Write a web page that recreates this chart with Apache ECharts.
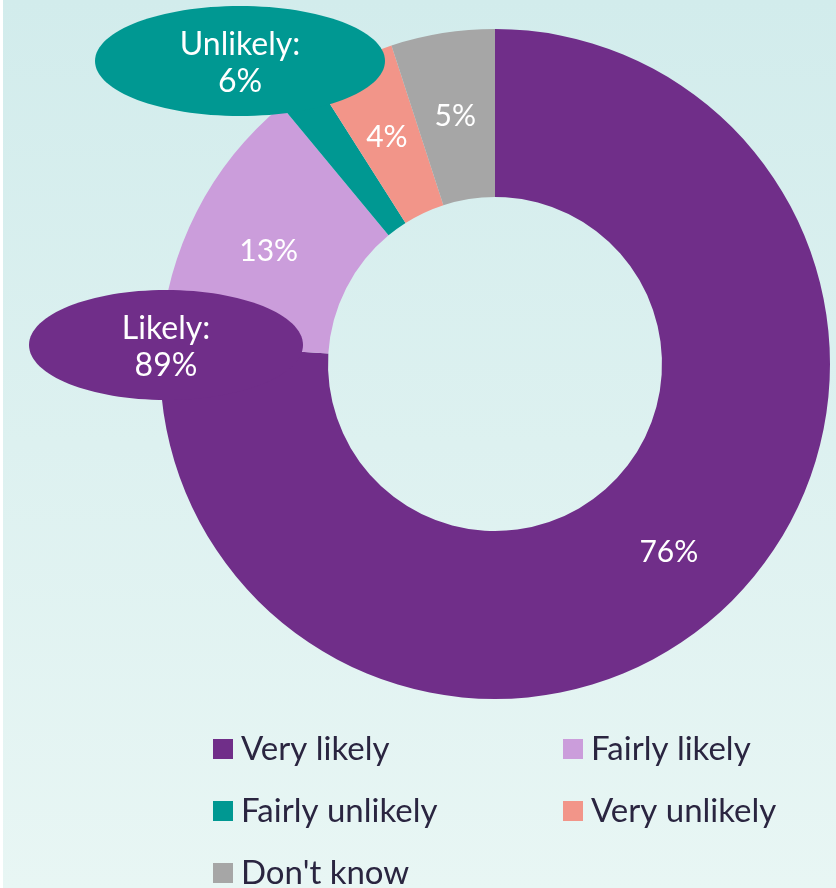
<!DOCTYPE html>
<html>
<head>
<meta charset="utf-8">
<script src="https://cdn.jsdelivr.net/npm/echarts@6/dist/echarts.min.js"></script>
<style>html,body{margin:0;padding:0;}#c{width:836px;height:888px;}</style>
</head>
<body>
<div id="c"></div>
<script>
const categories = ['Very likely', 'Fairly likely', 'Fairly unlikely', 'Very unlikely', "Don't know"];
const values = [76, 13, 2, 4, 5];
const colors = ['#702e89', '#cb9ddb', '#009892', '#f29589', '#a6a6a6'];
const likelyTotal = values[0] + values[1];
const unlikelyTotal = values[2] + values[3];
const FONT = 'Lato, "Open Sans", sans-serif';

// legend grid: two columns, three rows
const legendCols = [213, 563];
const legendRows = [749, 811, 873];

const legends = categories.map((name, i) => ({
  data: [name],
  orient: 'horizontal',
  padding: 0,
  left: legendCols[i % 2],
  top: legendRows[Math.floor(i / 2)] - 17,
  itemWidth: 20, itemHeight: 20, icon: 'rect',
  textStyle: { fontFamily: FONT, fontSize: 33, color: '#2a2540', lineHeight: 34, padding: [0, 0, 0, 3] },
  selectedMode: false
}));

const chart = echarts.init(document.getElementById('c'));
chart.setOption({
  backgroundColor: {
    type: 'linear', x: 0, y: 0, x2: 0, y2: 1,
    colorStops: [{ offset: 0, color: '#d2ecec' }, { offset: 1, color: '#e8f6f4' }]
  },
  color: colors,
  animation: false,
  legend: legends,
  series: [{
    type: 'pie',
    center: [495, 364],
    radius: [167, 335],
    startAngle: 90,
    clockwise: true,
    avoidLabelOverlap: false,
    silent: true,
    label: {
      show: true, position: 'inside', formatter: '{c}%',
      color: '#ffffff', fontSize: 30, fontFamily: FONT
    },
    labelLayout: { dy: 3 },
    labelLine: { show: false },
    data: categories.map((n, i) => ({ name: n, value: values[i] }))
  }],
  graphic: [
    { type: 'rect', left: 0, top: 0, shape: { width: 3, height: 888 }, style: { fill: '#ffffff' }, z: 1 },
    {
      type: 'ellipse', z: 100,
      shape: { cx: 240, cy: 61, rx: 145, ry: 55 },
      style: { fill: colors[2] }
    },
    {
      type: 'text', z: 101, x: 240, y: 63,
      style: {
        text: 'Unlikely:\n' + unlikelyTotal + '%', fill: '#ffffff', font: '32px ' + FONT,
        align: 'center', verticalAlign: 'middle', lineHeight: 37
      }
    },
    {
      type: 'ellipse', z: 100,
      shape: { cx: 166, cy: 345, rx: 137, ry: 55 },
      style: { fill: colors[0] }
    },
    {
      type: 'text', z: 101, x: 166, y: 347,
      style: {
        text: 'Likely:\n' + likelyTotal + '%', fill: '#ffffff', font: '32px ' + FONT,
        align: 'center', verticalAlign: 'middle', lineHeight: 37
      }
    }
  ]
});
</script>
</body>
</html>
